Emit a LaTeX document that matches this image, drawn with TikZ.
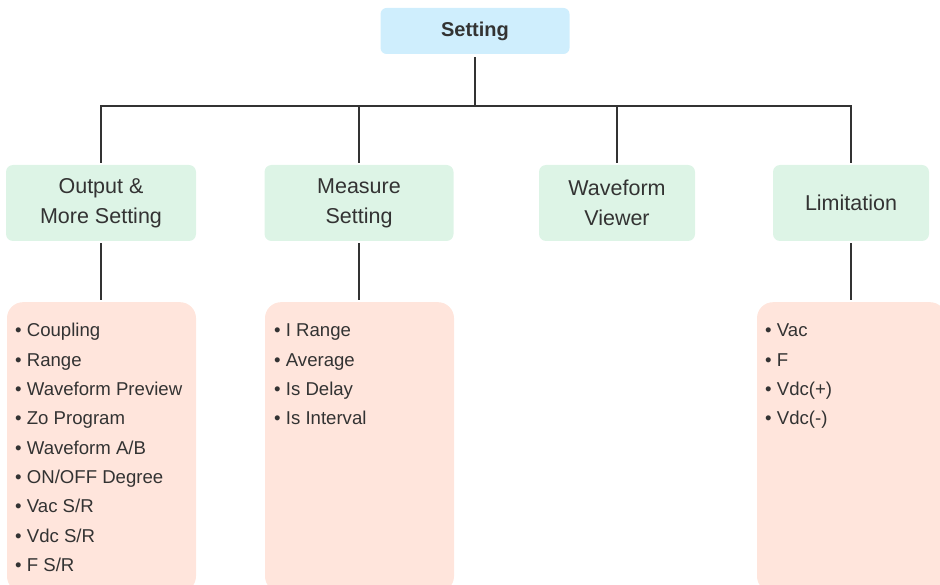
\documentclass[tikz,border=0pt]{standalone}
\usepackage{fontspec}
\setmainfont{Liberation Sans}
\definecolor{topblue}{HTML}{CFEEFD}
\definecolor{mint}{HTML}{DDF4E6}
\definecolor{peach}{HTML}{FFE5DC}
\definecolor{ink}{HTML}{333333}
\tikzset{
  topbox/.style={fill=topblue, rounded corners=6pt, minimum width=189pt, minimum height=46pt, inner sep=0pt, font=\fontsize{20}{24}\selectfont\bfseries, text=ink},
  catbox/.style={fill=mint, rounded corners=7pt, minimum height=76pt, inner sep=0pt, align=center, font=\fontsize{21.5}{30}\selectfont, text=ink},
  listbox/.style={fill=peach, rounded corners=16pt, minimum width=189pt, minimum height=290pt, inner sep=0pt, anchor=north},
  listitem/.style={anchor=base west, inner sep=0pt, font=\fontsize{18.6}{22}\selectfont, text=ink},
  link/.style={draw=ink, line width=2pt, line join=miter}
}
\begin{document}
\begin{tikzpicture}[x=1pt,y=-1pt]
\useasboundingbox (0,0) rectangle (940,585);
\node[topbox] (set) at (475,31) {Setting};
\node[catbox, minimum width=190pt] (g1) at (101,203) {Output \&\\More Setting};
\node[catbox, minimum width=189pt] (g2) at (359,203) {Measure\\Setting};
\node[catbox, minimum width=156pt] (g3) at (617,203) {Waveform\\Viewer};
\node[catbox, minimum width=156pt] (g4) at (851,203) {Limitation};
\node[listbox] (p1) at (101.5,302) {};
\node[listbox] (p2) at (359.5,302) {};
\node[listbox] (p3) at (851.5,302) {};
\foreach \t [count=\i from 0] in {Coupling,Range,Waveform Preview,Zo Program,Waveform A/B,ON/OFF Degree,Vac S/R,Vdc S/R,F S/R}
  \node[listitem] (a\i) at (15,337+29.3*\i) {• \t};
\foreach \t [count=\i from 0] in {I Range,Average,Is Delay,Is Interval}
  \node[listitem] (b\i) at (274,337+29.3*\i) {• \t};
\foreach \t [count=\i from 0] in {Vac,F,Vdc(+),Vdc(-)}
  \node[listitem] (c\i) at (765,337+29.3*\i) {• \t};
\coordinate (bar) at (0,106);
\draw[link, shorten <=3pt] (set.south) -- (set.south |- bar);
\draw[link, shorten <=2pt, shorten >=2pt] (g1.north) -- (g1.north |- bar) -- (g4.north |- bar) -- (g4.north);
\draw[link, shorten >=2pt] (g2.north |- bar) -- (g2.north);
\draw[link, shorten >=2pt] (g3.north |- bar) -- (g3.north);
\draw[link, shorten <=2pt, shorten >=2pt] (g1.south) -- (p1.north -| g1.south);
\draw[link, shorten <=2pt, shorten >=2pt] (g2.south) -- (p2.north -| g2.south);
\draw[link, shorten <=2pt, shorten >=2pt] (g4.south) -- (p3.north -| g4.south);
\end{tikzpicture}
\end{document}
